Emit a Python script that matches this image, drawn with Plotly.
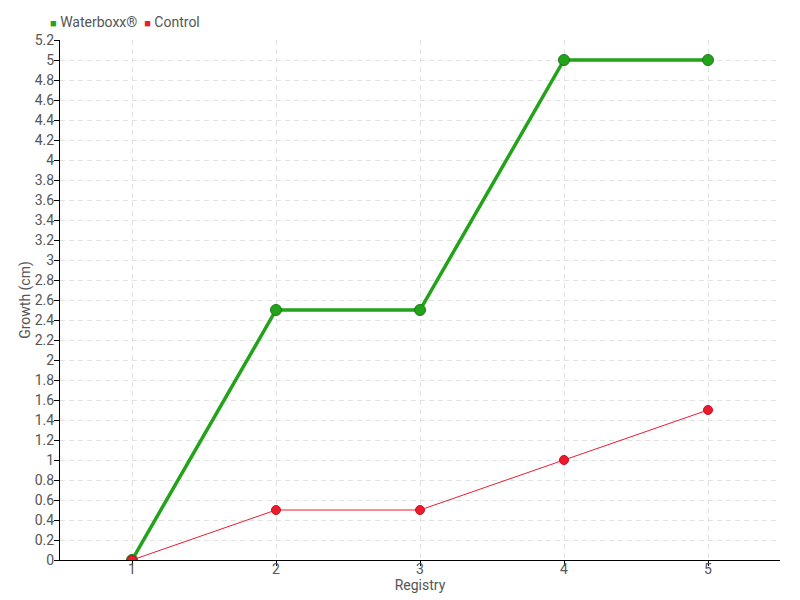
import plotly.graph_objects as go

registry = [1, 2, 3, 4, 5]
waterboxx = [0, 2.5, 2.5, 5, 5]
control = [0, 0.5, 0.5, 1, 1.5]
y_ticks = [round(i * 0.2, 1) for i in range(27)]
y_labels = [("%g" % v) for v in y_ticks]
series_names = ["Waterboxx®", "Control"]

green = "#22a31a"
red = "#ee1b2e"

fig = go.Figure()
fig.add_trace(go.Scatter(x=registry, y=waterboxx, mode="lines+markers", name=series_names[0],
                         showlegend=False,
                         line=dict(color=green, width=3.5),
                         marker=dict(size=11, color=green, line=dict(color="#1c7a16", width=1))))
fig.add_trace(go.Scatter(x=registry, y=control, mode="lines+markers", name=series_names[1],
                         showlegend=False,
                         line=dict(color=red, width=1),
                         marker=dict(size=9, color=red, line=dict(color="#c8101f", width=1))))

legend_text = (f"<span style='color:{green};font-size:11px'>■</span> {series_names[0]}  "
               f"<span style='color:{red};font-size:11px'>■</span> {series_names[1]}")
fig.add_annotation(text=legend_text, xref="paper", yref="paper", x=-12/720, y=1 + 18/520,
                   xanchor="left", yanchor="middle", showarrow=False,
                   font=dict(size=14, color="#555555"))

grid = "#e2e2e2"
fig.update_layout(
    width=800, height=600,
    margin=dict(l=60, r=20, t=40, b=40, autoexpand=False),
    plot_bgcolor="white", paper_bgcolor="white",
    font=dict(family="Roboto", size=14, color="#555555"),
    showlegend=False,
    xaxis=dict(range=[0.5, 5.5], tickvals=registry, ticktext=[str(v) for v in registry],
               showgrid=True, gridcolor=grid, griddash="5px,4px", gridwidth=1,
               showline=True, linecolor="black", linewidth=1,
               ticks="outside", ticklen=5, tickcolor="black",
               ticklabelstandoff=-9,
               zeroline=False, automargin=False,
               title=dict(text="Registry", standoff=0, font=dict(size=14))),
    yaxis=dict(range=[0, 5.2], tickvals=y_ticks, ticktext=y_labels,
               showgrid=True, gridcolor=grid, griddash="5px,4px", gridwidth=1,
               showline=True, linecolor="black", linewidth=1,
               ticks="outside", ticklen=5, tickcolor="black",
               ticklabelstandoff=-3,
               zeroline=False, automargin=False,
               title=dict(text="Growth (cm)", standoff=0, font=dict(size=14))),
)

fig.write_html("out.html", config={"displayModeBar": False},
               post_script="document.body.style.margin='0px';")
